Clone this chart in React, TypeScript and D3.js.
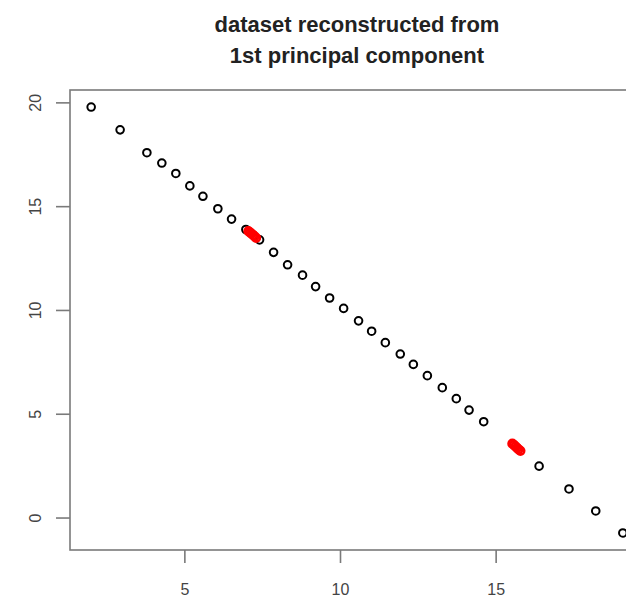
import * as d3 from 'd3'

const blackX = [1.99, 2.92, 3.78, 4.26, 4.71, 5.16, 5.58, 6.06, 6.5, 6.96, 7.4, 7.85, 8.3, 8.78, 9.2, 9.65, 10.1, 10.58, 11.0, 11.44, 11.92, 12.34, 12.79, 13.27, 13.72, 14.13, 14.6, 16.38, 17.34, 18.2, 19.07]
const blackY = [19.8, 18.7, 17.6, 17.1, 16.6, 16.0, 15.5, 14.9, 14.4, 13.9, 13.4, 12.8, 12.2, 11.7, 11.15, 10.6, 10.1, 9.5, 9.0, 8.45, 7.9, 7.4, 6.86, 6.28, 5.75, 5.2, 4.64, 2.5, 1.4, 0.34, -0.72]
const redX = [7.04, 7.09, 7.14, 7.19, 7.24, 7.29, 15.52, 15.57, 15.62, 15.67, 15.72, 15.78]
const redY = [13.82, 13.76, 13.7, 13.64, 13.57, 13.5, 3.58, 3.52, 3.45, 3.38, 3.31, 3.24]

const xTicks = [5, 10, 15]
const yTicks = [0, 5, 10, 15, 20]
const titleLines = ['dataset reconstructed from', '1st principal component']

export default function App() {
    const width = 626
    const height = 598
    const left = 70
    const right = 644
    const top = 90
    const bottom = 550

    const xScale = d3.scaleLinear().domain([1.31, 19.75]).range([left, right])
    const yScale = d3.scaleLinear().domain([-1.54, 20.62]).range([bottom, top])

    const black = blackX.map((x, i) => ({ x, y: blackY[i] }))
    const red = redX.map((x, i) => ({ x, y: redY[i] }))
    const axisColor = '#7a7a7a'
    const font = 'Arial, "Liberation Sans", sans-serif'

    return (
        <svg width={width} height={height} style={{ position: 'absolute', left: 0, top: 0, background: '#fff' }}>
            <rect x={0} y={0} width={width} height={height} fill="#fff" />
            {titleLines.map((t, i) => (
                <text key={t} x={(left + right) / 2} y={32 + i * 31} textAnchor="middle"
                    fontFamily={font} fontWeight="bold" fontSize={22} fill="#222">{t}</text>
            ))}
            <rect x={left} y={top} width={right - left} height={bottom - top}
                fill="none" stroke={axisColor} strokeWidth={1.6} />
            {xTicks.map(t => (
                <g key={t} transform={`translate(${xScale(t)},0)`}>
                    <line y1={bottom} y2={bottom + 13} stroke={axisColor} strokeWidth={1.6} />
                    <text y={595} textAnchor="middle" fontFamily={font} fontSize={16} fill="#444">{t}</text>
                </g>
            ))}
            {yTicks.map(t => (
                <g key={t} transform={`translate(0,${yScale(t)})`}>
                    <line x1={left - 14} x2={left} stroke={axisColor} strokeWidth={1.6} />
                    <text transform="translate(41,0) rotate(-90)" textAnchor="middle"
                        fontFamily={font} fontSize={16} fill="#444">{t}</text>
                </g>
            ))}
            <g fill="none">
                {black.map((d, i) => (
                    <circle key={'b' + i} cx={xScale(d.x)} cy={yScale(d.y)} r={3.8} stroke="#000" strokeWidth={2} />
                ))}
                {red.map((d, i) => (
                    <circle key={'r' + i} cx={xScale(d.x)} cy={yScale(d.y)} r={3.8} stroke="#f00" strokeWidth={2.6} />
                ))}
            </g>
        </svg>
    )
}
